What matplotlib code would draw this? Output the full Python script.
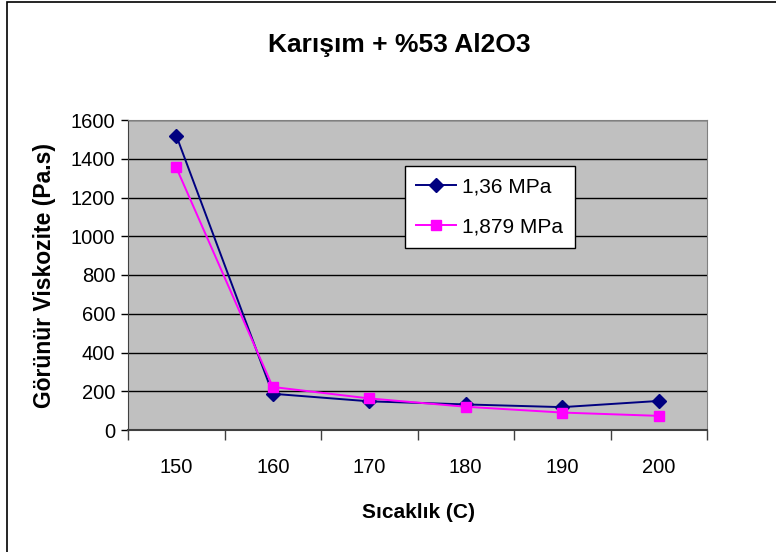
import numpy as np
import matplotlib.pyplot as plt
from matplotlib.patches import Rectangle

sicaklik = ['150', '160', '170', '180', '190', '200']
visk_136 = [1520, 187, 148, 132, 118, 150]
visk_1879 = [1355, 222, 163, 120, 90, 73]
seri_adlari = ['1,36 MPa', '1,879 MPa']

plt.rcParams['font.family'] = ['Liberation Sans', 'DejaVu Sans']

fig = plt.figure(figsize=(7.76, 5.52), dpi=100)
# chart area frame (Excel style)
fig.patches.append(Rectangle((7 / 776, -0.05), 1.2, 1 - 2 / 552 + 0.05,
                             transform=fig.transFigure, fill=False,
                             edgecolor='black', linewidth=1.2))

ax = fig.add_axes([128 / 776, 1 - 430 / 552, 579 / 776, 310 / 552])
ax.set_facecolor('#c0c0c0')

x = np.arange(len(sicaklik))
ax.plot(x, visk_136, color='#000080', marker='D', markersize=7.5, linewidth=1.4,
        label=seri_adlari[0])
ax.plot(x, visk_1879, color='#ff00ff', marker='s', markersize=7.5, linewidth=1.4,
        label=seri_adlari[1])

ax.set_xlim(-0.5, len(sicaklik) - 0.5)
ax.set_ylim(0, 1600)
ax.set_yticks(np.arange(0, 1601, 200))
ax.yaxis.grid(True, color='black', linewidth=1)
ax.set_axisbelow(True)

ax.set_xticks(x)
ax.set_xticklabels(sicaklik)
ax.set_xticks(np.arange(-0.5, len(sicaklik)), minor=True)
ax.tick_params(axis='x', which='major', length=0, pad=20, labelsize=14.5)
ax.tick_params(axis='x', which='minor', length=7, width=1, color='#404040')
ax.tick_params(axis='y', length=5, width=1, pad=4, labelsize=14.5)

for side in ['top', 'right']:
    ax.spines[side].set_color('#808080')
ax.spines['left'].set_color('#404040')
ax.spines['bottom'].set_color('#404040')
ax.spines['bottom'].set_linewidth(1.5)

fig.text(418 / 776, 1 - 518 / 552, 'Sıcaklık (C)', ha='center',
         va='baseline', fontsize=15, fontweight='bold')
fig.text(45 / 776, 1 - 275 / 552, 'Görünür Viskozite (Pa.s)', ha='center',
         va='center', rotation=90, fontsize=16.5, fontweight='bold')
fig.text(399 / 776, 1 - 52 / 552, 'Karışım + %53 Al2O3', ha='center',
         va='baseline', fontsize=19, fontweight='bold')

leg = ax.legend(loc='upper left', bbox_to_anchor=(277 / 579, 1 - 46 / 310),
                fontsize=15, frameon=True, fancybox=False, edgecolor='black',
                framealpha=1, handlelength=1.9, borderpad=0.55,
                labelspacing=1.0, handletextpad=0.3, borderaxespad=0)
leg.get_frame().set_linewidth(1)

fig.savefig('out.png', dpi=100)
